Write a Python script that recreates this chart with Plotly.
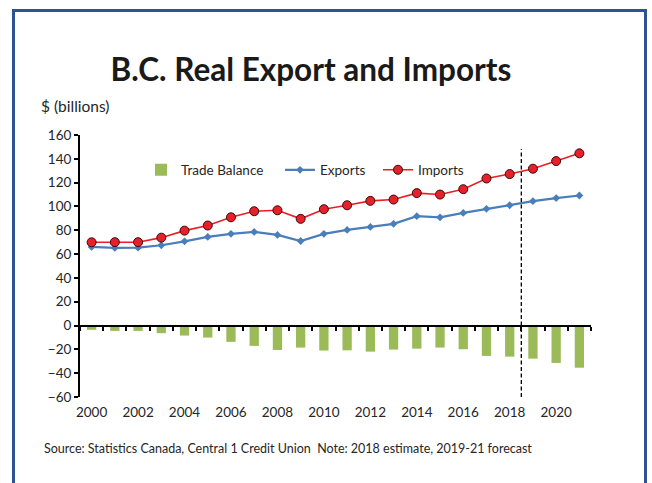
import plotly.graph_objects as go

# ---- data ($ billions, real terms) ----
years = list(range(2000, 2022))
exports = [66.0, 65.2, 65.4, 67.4, 70.7, 74.4, 77.0, 78.6, 76.1, 71.0, 77.0, 80.3,
           82.8, 85.4, 91.8, 90.9, 94.6, 98.0, 101.0, 104.4, 107.0, 109.2]
imports = [69.9, 70.0, 70.0, 73.8, 79.7, 84.0, 90.9, 96.0, 96.8, 89.6, 97.7, 101.0,
           104.7, 105.8, 111.2, 110.0, 114.5, 123.5, 127.2, 131.7, 138.1, 144.6]
trade_balance = [-3.6, -4.5, -4.5, -6.4, -8.4, -10.1, -13.7, -17.1, -20.5, -18.5, -21.0, -20.8,
                 -21.9, -20.2, -19.4, -18.5, -19.9, -25.5, -26.1, -27.8, -31.4, -35.4]
year_ticks = list(range(2000, 2021, 2))
y_ticks = list(range(-60, 161, 20))
forecast_split = 2018.5
split_line_top = 148

# ---- layout geometry ----
W, H = 652, 483
ML, MR, MT, MB = 80, 61, 135, 86
plot_w, plot_h = W - ML - MR, H - MT - MB


def px_x(px):
    return (px - ML) / plot_w


def px_y(py):
    return (H - MB - py) / plot_h


FONT = "Lato, 'Open Sans', sans-serif"
TXT = "#262626"
y_min, y_max = -60, 160
x_rng = [1999.5, 2021.5]

fig = go.Figure()

fig.add_trace(go.Bar(
    x=years, y=trade_balance, name="Trade Balance", legend="legend",
    marker=dict(color="#9BBB59", line=dict(width=0)), width=0.4,
))
fig.add_trace(go.Scatter(
    x=years, y=exports, name="Exports", mode="lines+markers", xaxis="x2", legend="legend2",
    line=dict(color="#4A7EBB", width=2.2),
    marker=dict(symbol="diamond", size=6, color="#4A7EBB"),
))
fig.add_trace(go.Scatter(
    x=years, y=imports, name="Imports", mode="lines+markers", xaxis="x2", legend="legend3",
    line=dict(color="#EE1C25", width=1.6),
    marker=dict(symbol="circle", size=9, color="#E8202A", line=dict(color="#3A0A0A", width=1)),
))

# zero-line axis position within the plot area
zero_pos = (0 - y_min) / (y_max - y_min)


def legend_at(px_left):
    return dict(
        orientation="h", x=px_x(px_left), y=px_y(170), xanchor="left", yanchor="middle",
        font=dict(family=FONT, size=13.5, color=TXT), bgcolor="rgba(0,0,0,0)",
        itemwidth=30,
    )


fig.update_layout(
    width=W, height=H,
    margin=dict(l=ML, r=MR, t=MT, b=MB),
    paper_bgcolor="white", plot_bgcolor="white",
    font=dict(family=FONT, size=13.5, color=TXT),
    showlegend=True,
    legend=legend_at(141),
    legend2=legend_at(280),
    legend3=legend_at(378),
    title=dict(
        text="<b>B.C. Real Export and Imports</b>",
        x=311 / W, xref="container", xanchor="center",
        y=1 - 70 / H, yref="container", yanchor="middle",
        font=dict(family=FONT, size=31.5, color="#1A1A1A"),
    ),
    xaxis=dict(
        range=x_rng, tickmode="array", tickvals=year_ticks,
        ticks="", showline=False, showgrid=False, zeroline=False,
        ticklabelstandoff=5,
        tickfont=dict(family=FONT, size=13.5, color=TXT),
    ),
    xaxis2=dict(
        overlaying="x", anchor="free", position=zero_pos, matches="x",
        tickmode="array", tickvals=[y - 0.5 for y in years] + [years[-1] + 0.5],
        ticks="outside", ticklen=4, tickwidth=1.5, tickcolor="black",
        showticklabels=False, showline=True, linecolor="black", linewidth=2,
        showgrid=False, zeroline=False,
    ),
    yaxis=dict(
        range=[y_min, y_max], tickmode="array", tickvals=y_ticks,
        ticks="outside", ticklen=4, tickwidth=1.5, tickcolor="black",
        showline=True, linecolor="black", linewidth=2,
        showgrid=False, zeroline=False,
        tickfont=dict(family=FONT, size=13.5, color=TXT),
    ),
    bargap=0.6,
)

# dashed divider between estimate and forecast years
fig.add_shape(type="line", xref="x", yref="y",
              x0=forecast_split, x1=forecast_split, y0=y_min, y1=split_line_top,
              line=dict(color="black", width=1.3, dash="4px,2.5px"))

# outer frame (open at the bottom)
fl, fr, ft, fb = px_x(13.5), px_x(645.5), px_y(10.5), px_y(H + 10)
fig.add_shape(type="path", xref="paper", yref="paper",
              path=f"M {fl},{fb} L {fl},{ft} L {fr},{ft} L {fr},{fb}",
              line=dict(color="#2F5290", width=3))

fig.add_annotation(text="$ (billions)", xref="paper", yref="paper",
                   x=px_x(39), y=px_y(106), xanchor="left", yanchor="middle",
                   showarrow=False, font=dict(family=FONT, size=15.5, color=TXT))
fig.add_annotation(text="Source: Statistics Canada, Central 1 Credit Union  Note: 2018 estimate, 2019-21 forecast",
                   xref="paper", yref="paper",
                   x=px_x(42), y=px_y(448), xanchor="left", yanchor="middle",
                   showarrow=False, font=dict(family=FONT, size=12.5, color=TXT))

fig.write_html("out.html")
